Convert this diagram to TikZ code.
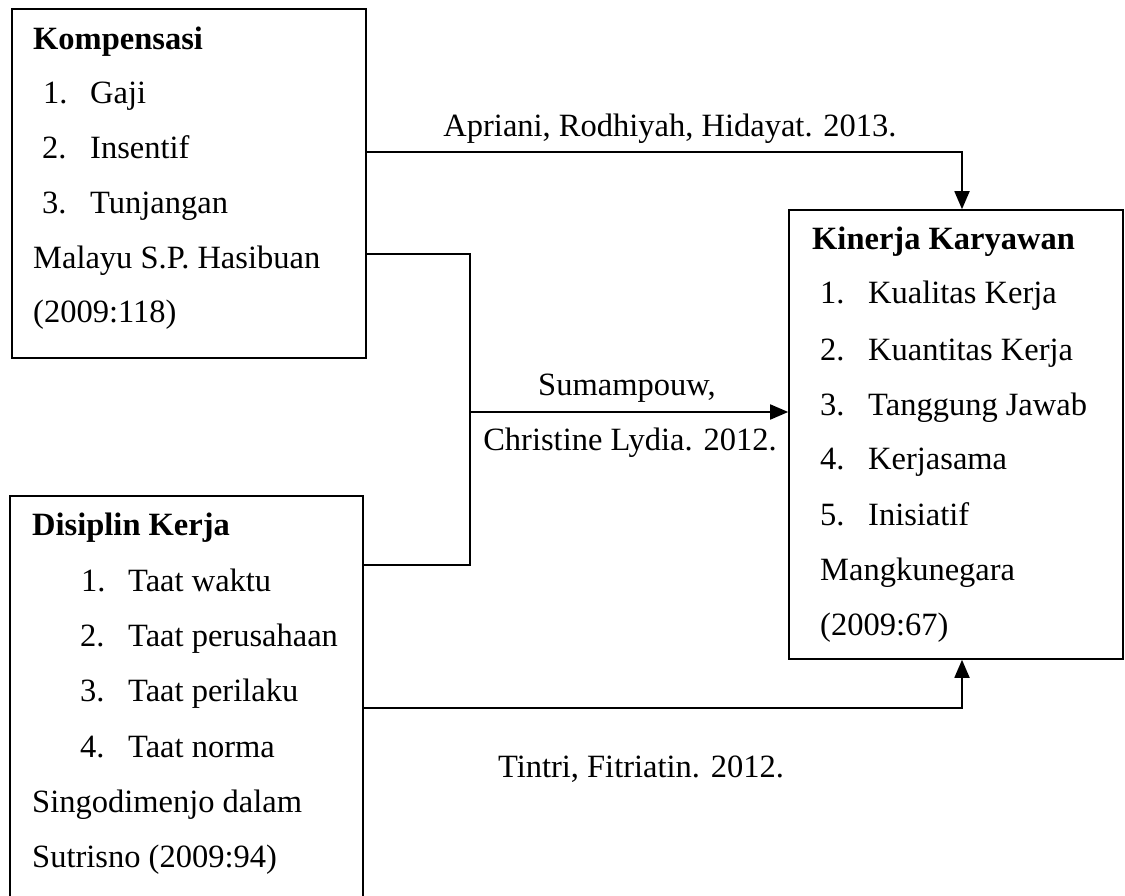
\documentclass[tikz,border=0pt]{standalone}
\usepackage{fontspec}
\setmainfont{Liberation Serif}
\usetikzlibrary{arrows.meta}
\begin{document}
\begin{tikzpicture}[x=1pt,y=-1pt,
  box/.style={draw, line width=1.6pt, inner sep=0pt, rectangle},
  txt/.style={anchor=base west, inner sep=0pt, font=\fontsize{32.5}{38}\selectfont},
  hd/.style={txt, font=\fontsize{32.5}{38}\selectfont\bfseries},
  lbl/.style={anchor=base, inner sep=0pt, font=\fontsize{32.5}{38}\selectfont},
  conn/.style={line width=1.8pt},
  arr/.style={conn, -{Triangle[width=15pt,length=18pt]}}]
\useasboundingbox (0,0) rectangle (1125,896);
\clip (0,0) rectangle (1125,896);
% boxes
\node[box, minimum width=354pt, minimum height=349pt] (k) at (189,183.5) {};
\node[box, minimum width=353pt, minimum height=440pt] (d) at (186.5,716) {};
\node[box, minimum width=334pt, minimum height=449pt] (kin) at (956,434.5) {};
% box 1 text
\node[hd] (k0) at (33,50) {Kompensasi};
\node[txt] (k1n) at (43,104) {1.};
\node[txt] (k1) at (90,104) {Gaji};
\node[txt] (k2n) at (42,159) {2.};
\node[txt] (k2) at (90,159) {Insentif};
\node[txt] (k3n) at (42,214) {3.};
\node[txt] (k3) at (90,214) {Tunjangan};
\node[txt] (k4) at (33,269) {Malayu S.P. Hasibuan};
\node[txt] (k5) at (33,323) {(2009:118)};
% box 2 text
\node[hd] (d0) at (32,535) {Disiplin Kerja};
\node[txt] (d1n) at (81,591) {1.};
\node[txt] (d1) at (128,591) {Taat waktu};
\node[txt] (d2n) at (80,646) {2.};
\node[txt] (d2) at (128,646) {Taat perusahaan};
\node[txt] (d3n) at (80,701) {3.};
\node[txt] (d3) at (128,701) {Taat perilaku};
\node[txt] (d4n) at (80,757) {4.};
\node[txt] (d4) at (128,757) {Taat norma};
\node[txt] (d5) at (32,812) {Singodimenjo dalam};
\node[txt] (d6) at (32,867) {Sutrisno (2009:94)};
% box 3 text
\node[hd] (n0) at (812,250) {Kinerja Karyawan};
\node[txt] (n1n) at (820,304) {1.};
\node[txt] (n1) at (868,304) {Kualitas Kerja};
\node[txt] (n2n) at (820,360) {2.};
\node[txt] (n2) at (868,360) {Kuantitas Kerja};
\node[txt] (n3n) at (820,415) {3.};
\node[txt] (n3) at (868,415) {Tanggung Jawab};
\node[txt] (n4n) at (820,469) {4.};
\node[txt] (n4) at (868,469) {Kerjasama};
\node[txt] (n5n) at (820,525) {5.};
\node[txt] (n5) at (868,525) {Inisiatif};
\node[txt] (n6) at (820,580) {Mangkunegara};
\node[txt] (n7) at (820,635) {(2009:67)};
% labels
\node[lbl] (la) at (670,137) {Apriani, Rodhiyah, Hidayat. 2013.};
\node[lbl] (ls1) at (627,395) {Sumampouw,};
\node[lbl] (ls2) at (630,450) {Christine Lydia. 2012.};
\node[lbl] (lt) at (641,777) {Tintri, Fitriatin. 2012.};
% connectors
\coordinate (jt) at (470,254);
\coordinate (j) at (470,412);
\coordinate (jb) at (470,565);
\draw[arr] (k.east |- 0,152) -| ([xshift=6pt]kin.north);
\draw[conn] (k.east |- jt) -- (jt) -- (jb) -- (d.east |- jb);
\draw[arr] (j) -- (kin.west |- j);
\draw[arr] (d.east |- 0,708) -| ([xshift=6pt]kin.south);
\end{tikzpicture}
\end{document}
